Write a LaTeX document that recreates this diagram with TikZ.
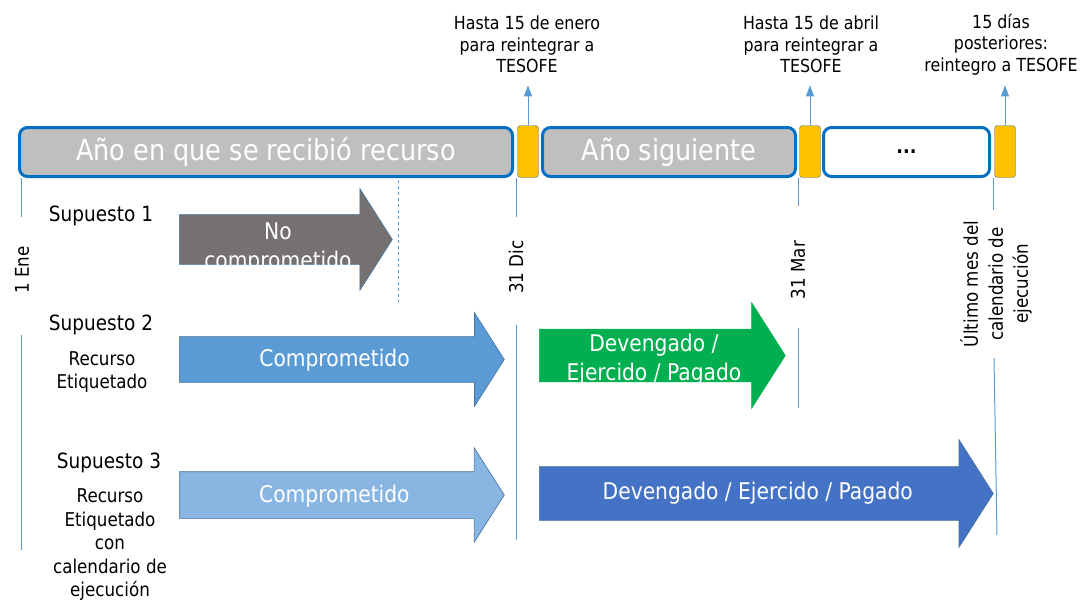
\documentclass[tikz,border=0pt]{standalone}
\usepackage{fontspec}
\setmainfont{DejaVu Sans}[FakeStretch=0.88]
\usetikzlibrary{shapes.arrows,arrows.meta}

\definecolor{barblue}{HTML}{0070C0}
\definecolor{boxgray}{HTML}{BFBFBF}
\definecolor{gold}{HTML}{FFC000}
\definecolor{goldline}{HTML}{41719C}
\definecolor{tickblue}{HTML}{5B9BD5}
\definecolor{darkgray}{HTML}{767171}
\definecolor{midblue}{HTML}{5B9BD5}
\definecolor{lightblue}{HTML}{88B5E1}
\definecolor{okgreen}{HTML}{00B050}
\definecolor{deepblue}{HTML}{4472C4}
\definecolor{arrowline}{HTML}{41719C}

\begin{document}
\begin{tikzpicture}[x=1pt, y=-1pt, >={Triangle[length=11pt,width=8pt]}]
    \tikzstyle{year} = [draw=barblue, line width=3pt, rounded corners=8pt,
	minimum height=49pt, inner sep=0pt, text=white,
	font=\fontsize{29}{34}\selectfont]
    \tikzstyle{gap} = [draw=goldline, fill=gold, rounded corners=3pt,
	minimum width=21pt, minimum height=52pt, inner sep=0pt]
    \tikzstyle{phase} = [single arrow, single arrow head indent=0pt,
	single arrow tip angle=115, inner sep=0pt, anchor=tail,
	draw=arrowline, line width=0.6pt]
    \tikzstyle{phasetext} = [text=white, align=center,
	font=\fontsize{23}{29}\selectfont]
    \tikzstyle{caption} = [font=\fontsize{21}{25}\selectfont]
    \tikzstyle{note} = [align=center, font=\fontsize{19}{23.5}\selectfont]
    \tikzstyle{deadline} = [align=center, font=\fontsize{18}{21.5}\selectfont]
    \tikzstyle{date} = [rotate=90, align=center, font=\fontsize{19}{25}\selectfont]
    \tikzstyle{tick} = [draw=tickblue, line width=1pt]

	\useasboundingbox (0,0) rectangle (1080,600);

	% barra de tiempo
	\node[year, fill=boxgray, minimum width=493pt] (y1) at (266,152) {Año en que se recibió recurso};
	\node[gap] (g1) at (528,151.5) {};
	\node[year, fill=boxgray, minimum width=253pt] (y2) at (669,152) {Año siguiente};
	\node[gap] (g2) at (810,151.5) {};
	\node[year, fill=white, minimum width=166pt, text=black,
	font=\fontsize{20}{24}\selectfont\bfseries] (y3) at (906.5,152) {...};
	\node[gap] (g3) at (1005,151.5) {};

	% plazos de reintegro
	\node[deadline] (d1) at (527,44.5) {Hasta 15 de enero\\para reintegrar a\\TESOFE};
	\node[deadline] (d2) at (811,44.5) {Hasta 15 de abril\\para reintegrar a\\TESOFE};
	\node[deadline] (d3) at (1001,44.5) {15 días\\posteriores:\\reintegro a TESOFE};
	\draw[tick, ->, draw=tickblue, fill=tickblue] (g1.north) -- ++(0,-40);
	\draw[tick, ->, draw=tickblue, fill=tickblue] (g2.north) -- ++(0,-40);
	\draw[tick, ->, draw=tickblue, fill=tickblue] (g3.north) -- ++(0,-40);

	% fechas
	\node[date] (ene) at (22,270) {1 Ene};
	\node[date] (dic) at (516,267) {31 Dic};
	\node[date] (mar) at (798,270) {31 Mar};
	\node[date] (ult) at (996,284) {Último mes del\\calendario de\\ejecución};

	\draw[tick] (21,178) -- (21,217);
	\draw[tick] (21,335) -- (21,550);
	\draw[tick] (516,178) -- (516,217);
	\draw[tick] (516,325) -- (516,540);
	\draw[tick] (798,178) -- (798,206);
	\draw[tick] (798,328) -- (798,408);
	\draw[tick] (993,178) -- (993,210);
	\draw[tick] (994,358) -- (997,535);
	\draw[tick, dash pattern=on 3pt off 3pt] (398,180) -- (398,302);

	% supuestos
	\node[caption] (s1) at (101,216) {Supuesto 1};
	\node[caption] (s2) at (101,325) {Supuesto 2};
	\node[note] (n2) at (102,372) {Recurso\\Etiquetado};
	\node[caption] (s3) at (109,463) {Supuesto 3};
	\node[note] (n3) at (110,545) {Recurso\\Etiquetado\\con\\calendario de\\ejecución};

	% flechas
	\node[phase, fill=darkgray, minimum height=213pt, minimum width=101pt,
	inner ysep=24.5pt, single arrow head extend=26pt] (a1) at (179,239.5) {};
	\node[phase, fill=midblue, minimum height=325pt, minimum width=93pt,
	inner ysep=22.5pt, single arrow head extend=24pt] (a2) at (179,359.5) {};
	\node[phase, fill=lightblue, minimum height=325pt, minimum width=94pt,
	inner ysep=23pt, single arrow head extend=24pt] (a3) at (179,495) {};
	\node[phase, fill=okgreen, draw=okgreen, minimum height=246pt, minimum width=105pt,
	inner ysep=26pt, single arrow head extend=26.5pt] (a4) at (539,355.5) {};
	\node[phase, fill=deepblue, minimum height=454pt, minimum width=107pt,
	inner ysep=26.5pt, single arrow head extend=27pt] (a5) at (539,493.5) {};

	\node[phasetext, yshift=-9pt] (t1) at (a1.center) {No\\comprometido};
	\node[phasetext, yshift=-1pt] (t2) at (a2.center) {Comprometido};
	\node[phasetext, yshift=-1pt] (t3) at (a3.center) {Comprometido};
	\node[phasetext, yshift=-4pt] (t4) at (a4.center) {Devengado /\\Ejercido / Pagado};
	\node[phasetext] (t5) at (a5.center) {Devengado / Ejercido / Pagado};
\end{tikzpicture}
\end{document}
